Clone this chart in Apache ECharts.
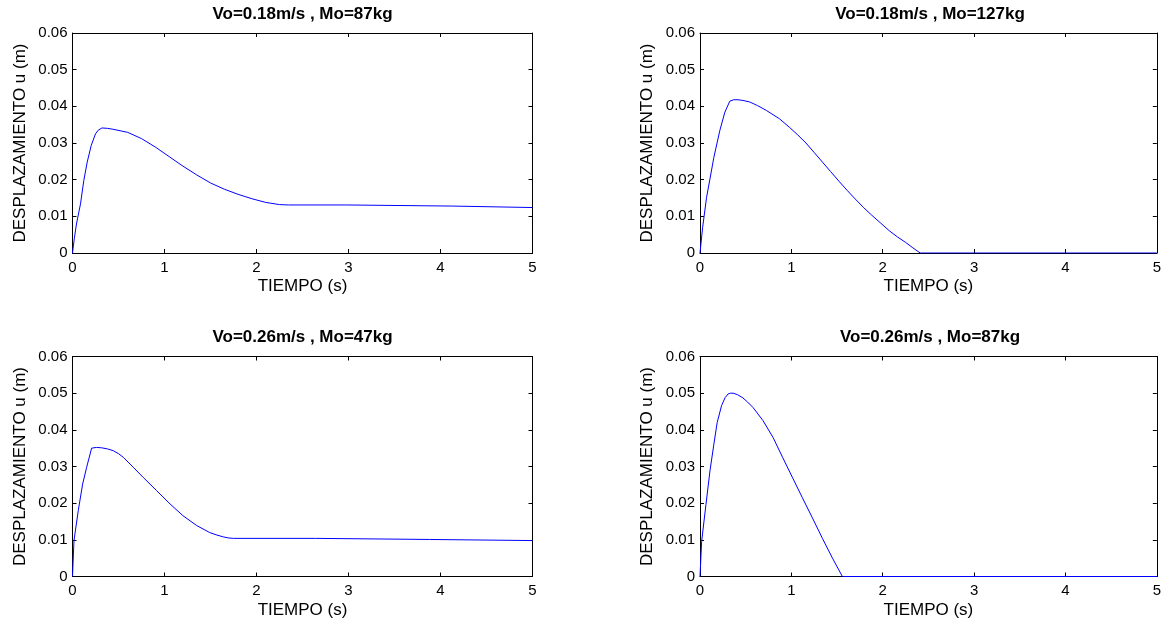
<!DOCTYPE html>
<html>
<head>
<meta charset="utf-8">
<script src="https://cdn.jsdelivr.net/npm/echarts@6/dist/echarts.min.js"></script>
<style>
html,body{margin:0;padding:0;background:#fff;}
#chart{width:1164px;height:625px;}
</style>
</head>
<body>
<div id="chart"></div>
<script>
// ---- data ----
var titles = ['Vo=0.18m/s , Mo=87kg', 'Vo=0.18m/s , Mo=127kg', 'Vo=0.26m/s , Mo=47kg', 'Vo=0.26m/s , Mo=87kg'];
var xName = 'TIEMPO (s)';
var yName = 'DESPLAZAMIENTO u (m)';
var xTicks = [0, 1, 2, 3, 4, 5];
var yTicks = [0, 0.01, 0.02, 0.03, 0.04, 0.05, 0.06];

var tA = [0, 0.02, 0.043, 0.087, 0.123, 0.16, 0.203, 0.25, 0.28, 0.32, 0.38, 0.45, 0.6, 0.75, 0.9, 1.05, 1.2, 1.35, 1.5, 1.65, 1.8, 1.95, 2.1, 2.25, 2.35, 2.97, 2.98, 4.13, 4.14, 5];
var uA = [0, 0.004, 0.0079, 0.0134, 0.0198, 0.0248, 0.0293, 0.0325, 0.0335, 0.0341, 0.034, 0.0337, 0.0329, 0.0312, 0.0289, 0.0263, 0.0237, 0.0213, 0.0191, 0.0174, 0.016, 0.0148, 0.0138, 0.0132, 0.0131, 0.0131, 0.0128, 0.0128, 0.0124, 0.0124];

var tB = [0, 0.029, 0.072, 0.109, 0.152, 0.217, 0.272, 0.326, 0.37, 0.416, 0.47, 0.543, 0.63, 0.725, 0.87, 0.978, 1.07, 1.16, 1.25, 1.34, 1.43, 1.52, 1.61, 1.70, 1.79, 1.88, 1.98, 2.07, 2.16, 2.25, 2.33, 2.41, 5];
var uB = [0, 0.007, 0.0152, 0.0202, 0.0261, 0.0334, 0.0384, 0.0414, 0.0418, 0.0418, 0.0416, 0.0412, 0.0402, 0.0389, 0.0366, 0.0343, 0.0322, 0.03, 0.0274, 0.0248, 0.0222, 0.0196, 0.0171, 0.0147, 0.0124, 0.0103, 0.0081, 0.0061, 0.0044, 0.0029, 0.0014, 0, 0];

var tC = [0, 0.016, 0.063, 0.11, 0.154, 0.208, 0.26, 0.317, 0.38, 0.444, 0.5, 0.553, 0.66, 0.77, 0.915, 1.06, 1.20, 1.35, 1.49, 1.57, 1.64, 1.7, 1.75, 2.64, 2.65, 3.88, 3.89, 5];
var uC = [0, 0.0098, 0.018, 0.0252, 0.0298, 0.035, 0.0352, 0.0351, 0.0348, 0.0343, 0.0335, 0.0325, 0.0298, 0.027, 0.0234, 0.0198, 0.0166, 0.0139, 0.012, 0.0113, 0.0108, 0.0105, 0.0104, 0.0104, 0.0101, 0.0101, 0.0098, 0.0098];

var tD = [0, 0.018, 0.065, 0.109, 0.152, 0.188, 0.236, 0.275, 0.308, 0.335, 0.362, 0.41, 0.47, 0.52, 0.58, 0.69, 0.80, 0.906, 1.014, 1.12, 1.23, 1.34, 1.45, 1.558, 5];
var uD = [0, 0.0096, 0.0196, 0.0288, 0.0361, 0.042, 0.0466, 0.0488, 0.0498, 0.05, 0.05, 0.0496, 0.0487, 0.0476, 0.0461, 0.0425, 0.0379, 0.0324, 0.0269, 0.0215, 0.016, 0.0104, 0.005, 0, 0];

var seriesT = [tA, tB, tC, tD];
var seriesU = [uA, uB, uC, uD];

// ---- layout ----
var FONT = "'Liberation Sans', Arial, Helvetica, sans-serif";
var gridPos = [
  {left: 72.5, top: 33},
  {left: 700, top: 33},
  {left: 72.5, top: 356.5},
  {left: 700, top: 356.5}
];
var GW = 460, GH = 220;

var grids = [], xAxes = [], yAxes = [], series = [], titleArr = [];
var axisLine = {show: true, onZero: false, lineStyle: {color: '#000', width: 1}};
var tick = {show: true, inside: true, length: 4, lineStyle: {color: '#000', width: 1}};

gridPos.forEach(function (g, i) {
  grids.push({left: g.left, top: g.top, width: GW, height: GH, containLabel: false, show: false});
  xAxes.push({
    type: 'value', gridIndex: i, position: 'bottom',
    min: xTicks[0], max: xTicks[xTicks.length - 1], interval: 1,
    axisLine: axisLine, axisTick: tick, splitLine: {show: false},
    axisLabel: {color: '#000', fontSize: 15, fontFamily: FONT, margin: 7},
    name: xName, nameLocation: 'middle', nameGap: 25,
    nameTextStyle: {color: '#000', fontSize: 17, fontFamily: FONT}
  });
  xAxes.push({
    type: 'value', gridIndex: i, position: 'top',
    min: xTicks[0], max: xTicks[xTicks.length - 1], interval: 1,
    axisLine: axisLine, axisTick: tick, splitLine: {show: false},
    axisLabel: {show: false}
  });
  yAxes.push({
    type: 'value', gridIndex: i, position: 'left',
    min: yTicks[0], max: yTicks[yTicks.length - 1], interval: 0.01,
    axisLine: axisLine, axisTick: tick, splitLine: {show: false},
    axisLabel: {color: '#000', fontSize: 15, fontFamily: FONT, margin: 5,
      formatter: function (v) { return v === 0 ? '0' : v.toFixed(2); }},
    name: yName, nameLocation: 'middle', nameGap: 44,
    nameTextStyle: {color: '#000', fontSize: 17, fontFamily: FONT}
  });
  yAxes.push({
    type: 'value', gridIndex: i, position: 'right',
    min: yTicks[0], max: yTicks[yTicks.length - 1], interval: 0.01,
    axisLine: axisLine, axisTick: tick, splitLine: {show: false},
    axisLabel: {show: false}
  });

  var pts = seriesT[i].map(function (t, k) { return [t, seriesU[i][k]]; });
  series.push({
    type: 'line', xAxisIndex: i * 2, yAxisIndex: i * 2,
    data: pts, showSymbol: false, symbol: 'none', smooth: false,
    lineStyle: {color: '#0000ff', width: 1}, z: 5, animation: false
  });

  titleArr.push({
    text: titles[i], left: g.left + GW / 2, top: g.top - 27.5, textAlign: 'center', padding: 0,
    textStyle: {color: '#000', fontSize: 17, fontWeight: 'bold', fontFamily: FONT}
  });
});

var chart = echarts.init(document.getElementById('chart'), null, {renderer: 'canvas'});
chart.setOption({
  backgroundColor: '#fff',
  animation: false,
  title: titleArr,
  grid: grids,
  xAxis: xAxes,
  yAxis: yAxes,
  series: series
});
</script>
</body>
</html>
